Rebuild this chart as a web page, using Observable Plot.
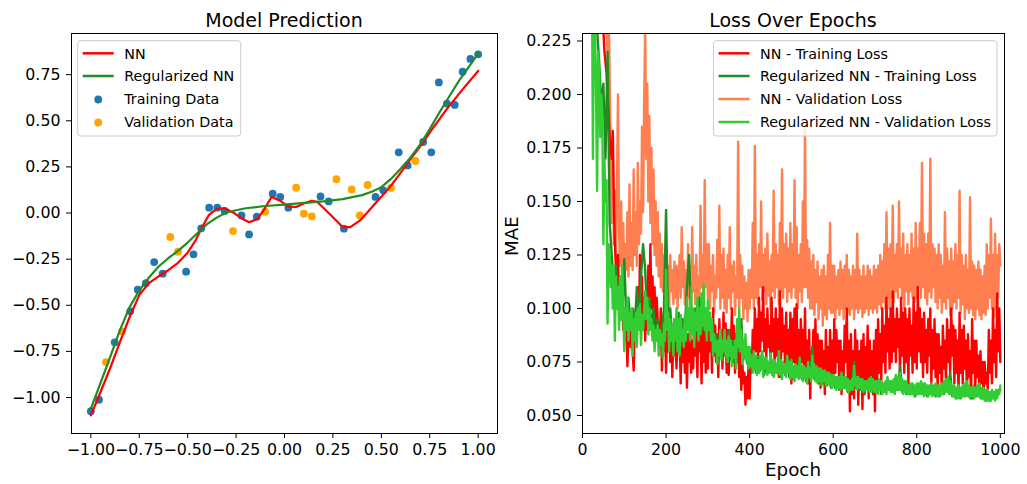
<!DOCTYPE html>
<html><head><meta charset="utf-8">
<script src="https://cdn.jsdelivr.net/npm/d3@7"></script>
<script src="https://cdn.jsdelivr.net/npm/@observablehq/plot@0.6"></script>
<style>
body{margin:0;background:#fff;}
#wrap{position:relative;width:1027px;height:484px;overflow:hidden;background:#fff;}
#wrap svg{position:absolute;top:0;}
</style></head><body><div id="wrap"></div>
<script>
// ---------- Left panel data ----------
const trainX = [-1.0,-0.958,-0.877,-0.797,-0.758,-0.716,-0.673,-0.629,-0.508,-0.470,-0.430,-0.389,-0.347,-0.309,-0.222,-0.183,-0.143,-0.061,-0.022,0.020,0.186,0.228,0.307,0.470,0.510,0.590,0.636,0.716,0.758,0.797,0.839,0.879,0.920,0.960,1.0];
const trainY = [-1.074,-1.012,-0.701,-0.533,-0.416,-0.380,-0.266,-0.329,-0.318,-0.224,-0.083,0.029,0.029,0.011,-0.013,-0.116,-0.020,0.105,0.087,0.029,0.090,0.063,-0.085,0.087,0.123,0.329,0.258,0.385,0.329,0.708,0.593,0.586,0.766,0.835,0.860];
const valX = [-0.922,-0.839,-0.590,-0.550,-0.266,-0.100,0.060,0.100,0.141,0.268,0.347,0.389,0.429,0.550,0.676];
const valY = [-0.808,-0.642,-0.130,-0.210,-0.098,0.007,0.137,-0.004,-0.018,0.183,0.128,-0.013,0.152,0.136,0.282];
const nnX = [-1.0,-0.95,-0.90,-0.85,-0.80,-0.75,-0.70,-0.65,-0.60,-0.55,-0.50,-0.46,-0.43,-0.39,-0.35,-0.31,-0.26,-0.22,-0.183,-0.14,-0.105,-0.067,-0.02,0.02,0.06,0.10,0.14,0.17,0.24,0.30,0.34,0.39,0.43,0.48,0.54,0.59,0.64,0.70,0.76,0.84,0.92,1.0];
const nnY = [-1.097,-0.97,-0.84,-0.70,-0.565,-0.445,-0.38,-0.343,-0.31,-0.27,-0.215,-0.15,-0.085,-0.010,0.022,0.026,0.000,-0.030,-0.050,-0.032,0.020,0.087,0.065,0.035,0.033,0.052,0.066,0.060,-0.012,-0.076,-0.076,-0.040,0.005,0.065,0.135,0.204,0.277,0.36,0.45,0.566,0.67,0.770];
const regX = [-1.0,-0.95,-0.90,-0.85,-0.80,-0.75,-0.70,-0.65,-0.60,-0.55,-0.50,-0.45,-0.40,-0.35,-0.30,-0.25,-0.20,-0.10,0.0,0.10,0.20,0.30,0.40,0.45,0.50,0.55,0.60,0.65,0.70,0.75,0.80,0.85,0.90,0.95,1.0];
const regY = [-1.06,-0.92,-0.78,-0.635,-0.51,-0.42,-0.35,-0.29,-0.245,-0.205,-0.16,-0.11,-0.06,-0.025,0.003,0.015,0.026,0.038,0.045,0.055,0.063,0.075,0.097,0.115,0.14,0.185,0.24,0.30,0.37,0.455,0.545,0.63,0.715,0.79,0.864];
const leftXTicks = [-1.0,-0.75,-0.5,-0.25,0,0.25,0.5,0.75,1.0];
const leftYTicks = [-1.0,-0.75,-0.5,-0.25,0,0.25,0.5,0.75];

// ---------- Right panel data ----------
// NN training / validation and regularized validation: one value every 2.5 epochs
const fineStep = 2.5;
const nnTrainLoss = [
0.52,0.50,0.48,0.46,0.44,0.42,0.40,0.38,0.37,0.35,0.34,0.33,0.32,0.30,0.29,0.28,0.27,0.26,0.25,0.24,
0.23,0.22,0.215,0.21,0.20,0.19,0.18,0.175,0.17,0.183,0.15,0.13,0.12,0.11,0.125,0.10,0.11,0.095,0.105,0.09,
0.1,0.085,0.095,0.073,0.09,0.098,0.082,0.092,0.08,0.071,0.09,0.1,0.085,0.11,0.09,0.125,0.095,0.115,0.09,0.105,
0.085,0.11,0.09,0.12,0.095,0.13,0.1,0.115,0.09,0.11,0.088,0.105,0.095,0.09,0.085,0.1,0.071,0.09,0.08,0.095,
0.07,0.09,0.08,0.095,0.075,0.09,0.068,0.088,0.078,0.085,0.072,0.09,0.08,0.085,0.065,0.09,0.075,0.088,0.07,0.09,
0.063,0.088,0.075,0.092,0.07,0.085,0.072,0.098,0.078,0.09,0.068,0.095,0.08,0.088,0.065,0.09,0.075,0.1,0.07,0.092,
0.072,0.095,0.08,0.09,0.07,0.1,0.078,0.092,0.075,0.088,0.068,0.095,0.08,0.09,0.072,0.098,0.078,0.093,0.07,0.09,
0.069,0.09,0.078,0.1,0.075,0.092,0.07,0.088,0.075,0.085,0.068,0.08,0.062,0.075,0.065,0.07,0.055,0.068,0.058,0.075,
0.058,0.08,0.07,0.09,0.075,0.1,0.08,0.095,0.078,0.105,0.08,0.098,0.085,0.11,0.08,0.095,0.077,0.1,0.082,0.092,
0.075,0.105,0.08,0.095,0.07,0.1,0.078,0.095,0.068,0.108,0.075,0.1,0.08,0.092,0.07,0.098,0.075,0.09,0.07,0.098,
0.065,0.095,0.075,0.1,0.07,0.102,0.072,0.09,0.068,0.095,0.075,0.09,0.072,0.1,0.07,0.085,0.065,0.09,0.058,0.08,
0.07,0.09,0.075,0.095,0.068,0.088,0.072,0.085,0.063,0.085,0.07,0.08,0.06,0.09,0.068,0.082,0.065,0.09,0.07,0.085,
0.065,0.095,0.07,0.09,0.075,0.085,0.062,0.085,0.06,0.08,0.068,0.092,0.075,0.1,0.065,0.085,0.052,0.088,0.06,0.08,
0.058,0.09,0.065,0.085,0.055,0.08,0.062,0.085,0.053,0.088,0.06,0.082,0.065,0.092,0.058,0.085,0.062,0.08,0.06,0.085,
0.052,0.09,0.062,0.095,0.07,0.088,0.065,0.1,0.075,0.092,0.07,0.105,0.08,0.095,0.072,0.1,0.075,0.108,0.08,0.095,
0.075,0.1,0.082,0.095,0.068,0.105,0.078,0.098,0.07,0.1,0.075,0.095,0.065,0.1,0.078,0.092,0.07,0.105,0.075,0.098,
0.072,0.11,0.08,0.1,0.075,0.095,0.068,0.098,0.075,0.09,0.07,0.095,0.078,0.1,0.065,0.09,0.072,0.095,0.068,0.088,
0.062,0.088,0.07,0.082,0.06,0.092,0.072,0.085,0.065,0.095,0.075,0.09,0.07,0.1,0.078,0.092,0.065,0.09,0.07,0.085,
0.06,0.098,0.07,0.09,0.065,0.092,0.072,0.085,0.06,0.088,0.068,0.08,0.058,0.095,0.07,0.085,0.062,0.085,0.068,0.078,
0.06,0.08,0.065,0.075,0.058,0.075,0.065,0.07,0.062,0.09,0.07,0.085,0.065,0.1,0.075,0.09,0.068,0.107,0.08,0.1,
0.075];
const nnValLoss = [
0.46,0.44,0.42,0.40,0.385,0.37,0.355,0.34,0.33,0.32,0.31,0.30,0.29,0.285,0.275,0.27,0.26,0.255,0.25,0.24,
0.235,0.24,0.23,0.228,0.22,0.24,0.21,0.17,0.14,0.177,0.13,0.155,0.12,0.16,0.20,0.135,0.12,0.15,0.115,0.14,
0.112,0.13,0.118,0.145,0.115,0.158,0.12,0.14,0.118,0.165,0.125,0.145,0.12,0.168,0.13,0.15,0.135,0.185,0.145,0.195,
0.23,0.17,0.205,0.15,0.19,0.14,0.175,0.13,0.165,0.125,0.15,0.12,0.145,0.115,0.135,0.11,0.13,0.108,0.125,0.105,
0.128,0.103,0.12,0.10,0.125,0.108,0.118,0.102,0.122,0.105,0.12,0.10,0.115,0.125,0.105,0.138,0.11,0.122,0.102,0.118,
0.098,0.13,0.105,0.12,0.10,0.138,0.108,0.12,0.102,0.125,0.1,0.115,0.105,0.148,0.11,0.125,0.098,0.16,0.11,0.13,
0.105,0.13,0.1,0.12,0.108,0.125,0.098,0.115,0.105,0.132,0.11,0.148,0.1,0.125,0.105,0.128,0.1,0.118,0.098,0.125,
0.105,0.138,0.1,0.12,0.108,0.122,0.097,0.115,0.105,0.178,0.1,0.125,0.105,0.12,0.095,0.115,0.1,0.112,0.094,0.118,
0.1,0.118,0.105,0.14,0.1,0.176,0.105,0.125,0.102,0.13,0.11,0.15,0.104,0.125,0.108,0.128,0.102,0.135,0.106,0.122,
0.1,0.125,0.108,0.155,0.105,0.13,0.11,0.125,0.102,0.14,0.108,0.165,0.105,0.13,0.11,0.135,0.103,0.128,0.108,0.14,
0.105,0.13,0.11,0.16,0.105,0.138,0.1,0.125,0.108,0.13,0.103,0.15,0.11,0.185,0.11,0.132,0.105,0.128,0.1,0.122,
0.1,0.125,0.097,0.118,0.103,0.122,0.095,0.115,0.1,0.118,0.092,0.12,0.097,0.115,0.095,0.125,0.1,0.14,0.098,0.12,
0.098,0.12,0.095,0.115,0.1,0.118,0.097,0.122,0.1,0.118,0.095,0.12,0.1,0.125,0.098,0.118,0.097,0.115,0.1,0.12,
0.095,0.118,0.1,0.135,0.098,0.118,0.1,0.115,0.096,0.12,0.098,0.115,0.1,0.12,0.097,0.118,0.1,0.115,0.098,0.12,
0.1,0.118,0.098,0.12,0.102,0.125,0.1,0.122,0.103,0.13,0.1,0.145,0.105,0.128,0.1,0.13,0.105,0.148,0.103,0.125,
0.108,0.13,0.105,0.15,0.11,0.128,0.105,0.135,0.1,0.125,0.108,0.13,0.102,0.125,0.108,0.135,0.105,0.128,0.103,0.14,
0.105,0.128,0.11,0.14,0.105,0.168,0.11,0.135,0.105,0.13,0.102,0.135,0.108,0.17,0.105,0.13,0.11,0.128,0.103,0.125,
0.1,0.13,0.105,0.125,0.098,0.12,0.103,0.145,0.1,0.128,0.105,0.122,0.097,0.128,0.1,0.122,0.103,0.13,0.1,0.125,
0.105,0.155,0.098,0.125,0.102,0.12,0.095,0.125,0.1,0.118,0.098,0.152,0.1,0.122,0.097,0.12,0.095,0.118,0.1,0.122,
0.097,0.118,0.095,0.115,0.098,0.12,0.097,0.13,0.1,0.125,0.105,0.142,0.1,0.125,0.096,0.135,0.1,0.125,0.105,0.13,
0.12];
const regValLoss = [
0.44,0.42,0.40,0.38,0.36,0.34,0.32,0.30,0.28,0.26,0.17,0.25,0.23,0.2,0.155,0.22,0.21,0.18,0.2,0.19,
0.13,0.17,0.15,0.16,0.093,0.13,0.125,0.11,0.12,0.1,0.12,0.085,0.115,0.1,0.11,0.09,0.115,0.095,0.12,0.1,
0.08,0.1,0.09,0.105,0.085,0.098,0.09,0.1,0.078,0.095,0.085,0.098,0.082,0.1,0.09,0.102,0.083,0.097,0.09,0.1,
0.108,0.095,0.105,0.088,0.1,0.09,0.095,0.085,0.092,0.08,0.09,0.085,0.092,0.078,0.09,0.083,0.088,0.077,0.09,0.085,
0.118,0.09,0.098,0.08,0.095,0.085,0.092,0.078,0.095,0.085,0.1,0.08,0.095,0.078,0.097,0.085,0.09,0.082,0.097,0.085,
0.105,0.09,0.1,0.085,0.11,0.088,0.1,0.082,0.098,0.09,0.105,0.085,0.1,0.088,0.107,0.092,0.111,0.09,0.1,0.085,
0.104,0.09,0.098,0.085,0.095,0.078,0.088,0.08,0.085,0.074,0.085,0.078,0.09,0.076,0.085,0.08,0.09,0.078,0.085,0.075,
0.087,0.078,0.085,0.073,0.082,0.077,0.085,0.072,0.095,0.082,0.1,0.08,0.09,0.074,0.085,0.078,0.088,0.075,0.082,0.072,
0.082,0.073,0.078,0.07,0.08,0.072,0.078,0.069,0.076,0.07,0.078,0.072,0.08,0.068,0.077,0.072,0.077,0.069,0.075,0.07,
0.079,0.07,0.076,0.068,0.076,0.07,0.074,0.07,0.08,0.069,0.076,0.067,0.075,0.07,0.074,0.068,0.078,0.07,0.075,0.067,
0.076,0.068,0.073,0.066,0.074,0.068,0.073,0.067,0.077,0.068,0.073,0.066,0.073,0.068,0.072,0.065,0.075,0.068,0.072,0.066,
0.078,0.068,0.073,0.066,0.073,0.065,0.072,0.066,0.072,0.064,0.071,0.066,0.071,0.064,0.07,0.065,0.07,0.064,0.069,0.063,
0.069,0.064,0.068,0.062,0.068,0.063,0.068,0.062,0.07,0.063,0.068,0.063,0.068,0.062,0.067,0.061,0.066,0.062,0.067,0.062,
0.073,0.064,0.068,0.062,0.068,0.063,0.067,0.062,0.067,0.061,0.066,0.062,0.066,0.062,0.067,0.061,0.068,0.062,0.067,0.061,
0.066,0.061,0.066,0.06,0.067,0.062,0.066,0.06,0.065,0.061,0.066,0.06,0.068,0.062,0.066,0.061,0.066,0.061,0.067,0.06,
0.069,0.062,0.068,0.062,0.07,0.062,0.067,0.06,0.066,0.061,0.066,0.06,0.064,0.06,0.065,0.06,0.065,0.06,0.064,0.059,
0.065,0.06,0.065,0.06,0.066,0.06,0.065,0.059,0.065,0.06,0.064,0.059,0.064,0.06,0.065,0.059,0.064,0.06,0.065,0.059,
0.064,0.059,0.064,0.06,0.065,0.06,0.066,0.061,0.067,0.061,0.068,0.06,0.066,0.06,0.064,0.059,0.064,0.058,0.063,0.058,
0.064,0.058,0.063,0.059,0.064,0.059,0.065,0.059,0.066,0.059,0.064,0.058,0.063,0.059,0.064,0.058,0.063,0.059,0.064,0.059,
0.065,0.058,0.063,0.058,0.063,0.057,0.062,0.057,0.062,0.057,0.061,0.057,0.062,0.058,0.061,0.057,0.062,0.058,0.062,0.06,
0.064];
// Regularized training loss: one value every 5 epochs (mostly hidden under its validation curve)
const coarseStep = 5;
const regTrainLoss = [
0.40,0.35,0.31,0.28,0.26,0.24,0.235,0.23,0.215,0.195,
0.205,0.17,0.22,0.14,0.125,0.11,0.12,0.10,0.115,0.095,
0.123,0.095,0.105,0.09,0.10,0.09,0.11,0.092,0.115,0.13,
0.118,0.095,0.105,0.09,0.10,0.085,0.095,0.082,0.09,0.10,
0.146,0.09,0.10,0.085,0.095,0.085,0.098,0.083,0.095,0.09,
0.11,0.125,0.095,0.09,0.10,0.088,0.105,0.09,0.10,0.088,
0.098,0.09,0.095,0.082,0.088,0.08,0.09,0.078,0.088,0.078,
0.09,0.076,0.085,0.075,0.09,0.08,0.095,0.076,0.085,0.074,
0.08,0.072,0.078,0.07,0.077,0.071,0.079,0.069,0.076,0.07,
0.078,0.069,0.075,0.07,0.079,0.068,0.074,0.069,0.077,0.068,
0.075,0.067,0.073,0.068,0.076,0.067,0.072,0.066,0.074,0.067,
0.082,0.067,0.072,0.065,0.071,0.065,0.07,0.064,0.069,0.063,
0.068,0.063,0.067,0.062,0.069,0.063,0.067,0.061,0.065,0.062,
0.075,0.063,0.067,0.062,0.066,0.061,0.065,0.062,0.067,0.061,
0.065,0.061,0.066,0.06,0.064,0.061,0.067,0.062,0.065,0.061,
0.068,0.062,0.073,0.061,0.065,0.06,0.063,0.06,0.064,0.059,
0.063,0.06,0.065,0.06,0.064,0.059,0.062,0.06,0.063,0.059,
0.062,0.059,0.063,0.06,0.065,0.061,0.07,0.059,0.062,0.058,
0.062,0.058,0.061,0.059,0.064,0.059,0.062,0.058,0.061,0.059,
0.063,0.058,0.061,0.057,0.06,0.057,0.059,0.058,0.06,0.06,
0.062];
const rightXTicks = [0,200,400,600,800,1000];
const rightYTicks = [0.05,0.075,0.1,0.125,0.15,0.175,0.2,0.225];

// ---------- Build ----------
const FONT = "DejaVu Sans";
const wrap = document.getElementById("wrap");
const toPts = (xs, ys) => xs.map((x, i) => ({x, y: ys[i]}));
const series = (vals, step) => vals.map((v, i) => ({x: i * step, y: v}));

const left = Plot.plot({
  width: 510, height: 484,
  marginLeft: 71, marginRight: 13, marginTop: 33, marginBottom: 51,
  style: {fontFamily: FONT, fontSize: "15.8px", color: "#000", background: "transparent", overflow: "visible"},
  x: {domain: [-1.1, 1.1], ticks: leftXTicks, tickFormat: d3.format(".2f"), tickSize: 5, tickPadding: 5, label: null},
  y: {domain: [-1.195, 0.973], ticks: leftYTicks, tickFormat: d3.format(".2f"), tickSize: 5, tickPadding: 6, label: null},
  marks: [
    Plot.dot(toPts(trainX, trainY), {x: "x", y: "y", r: 3.9, fill: "#1f77b4", stroke: "none"}),
    Plot.dot(toPts(valX, valY), {x: "x", y: "y", r: 3.9, fill: "#ffa500", stroke: "none"}),
    Plot.line(toPts(nnX, nnY), {x: "x", y: "y", stroke: "#ff0000", strokeWidth: 2.2}),
    Plot.line(toPts(regX, regY), {x: "x", y: "y", stroke: "#228b22", strokeWidth: 2.2}),
    Plot.frame({stroke: "#000", strokeWidth: 1})
  ]
});
left.style.left = "0px";
wrap.appendChild(left);

const right = Plot.plot({
  width: 517, height: 484,
  marginLeft: 72, marginRight: 23, marginTop: 33, marginBottom: 51,
  style: {fontFamily: FONT, fontSize: "15.8px", color: "#000", background: "transparent", overflow: "visible"},
  x: {domain: [0, 1010], ticks: rightXTicks, tickFormat: d3.format("d"), tickSize: 5, tickPadding: 5, label: null},
  y: {domain: [0.0416, 0.2285], ticks: rightYTicks, tickFormat: d3.format(".3f"), tickSize: 5, tickPadding: 6, label: null},
  marks: [
    Plot.line(series(nnValLoss, fineStep), {x: "x", y: "y", stroke: "#ff7f50", strokeWidth: 2.4, clip: true}),
    Plot.line(series(nnTrainLoss, fineStep), {x: "x", y: "y", stroke: "#ff0000", strokeWidth: 2.4, clip: true}),
    Plot.line(series(regTrainLoss, coarseStep), {x: "x", y: "y", stroke: "#228b22", strokeWidth: 2.4, clip: true}),
    Plot.line(series(regValLoss, fineStep), {x: "x", y: "y", stroke: "#32cd32", strokeWidth: 2.4, clip: true}),
    Plot.frame({stroke: "#000", strokeWidth: 1})
  ]
});
right.style.left = "510px";
wrap.appendChild(right);

// ---------- Overlay: titles, axis labels, legends ----------
const ov = d3.select(wrap).append("svg")
  .attr("width", 1027).attr("height", 484)
  .style("left", "0px").style("font-family", FONT);

ov.append("text").attr("x", 284).attr("y", 27).attr("text-anchor", "middle")
  .style("font-size", "19px").text("Model Prediction");
ov.append("text").attr("x", 793).attr("y", 27).attr("text-anchor", "middle")
  .style("font-size", "19px").text("Loss Over Epochs");
ov.append("text").attr("x", 793).attr("y", 476).attr("text-anchor", "middle")
  .style("font-size", "18.3px").text("Epoch");
ov.append("text").attr("transform", "translate(518,236) rotate(-90)").attr("text-anchor", "middle")
  .style("font-size", "18.3px").text("MAE");

function legend(x0, w, items) {
  const g = ov.append("g");
  g.append("rect").attr("x", x0).attr("y", 40.7).attr("width", w).attr("height", 95.3)
    .attr("rx", 3).attr("fill", "rgba(255,255,255,0.8)").attr("stroke", "#cccccc").attr("stroke-width", 1);
  items.forEach((it, i) => {
    const cy = [53.3, 76, 99, 122][i];
    if (it.type === "line") {
      g.append("line").attr("x1", x0 + 5).attr("x2", x0 + 36).attr("y1", cy).attr("y2", cy)
        .attr("stroke", it.color).attr("stroke-width", 2.5);
    } else {
      g.append("circle").attr("cx", x0 + 20.5).attr("cy", cy + 0.5).attr("r", 3.9).attr("fill", it.color);
    }
    g.append("text").attr("x", x0 + 46.5).attr("y", cy + 5.2).style("font-size", "14.3px").attr("fill", "#000").text(it.label);
  });
}
legend(77.7, 163, [
  {type: "line", color: "#ff0000", label: "NN"},
  {type: "line", color: "#228b22", label: "Regularized NN"},
  {type: "dot", color: "#1f77b4", label: "Training Data"},
  {type: "dot", color: "#ffa500", label: "Validation Data"}
]);
legend(713.5, 283.5, [
  {type: "line", color: "#ff0000", label: "NN - Training Loss"},
  {type: "line", color: "#228b22", label: "Regularized NN - Training Loss"},
  {type: "line", color: "#ff7f50", label: "NN - Validation Loss"},
  {type: "line", color: "#32cd32", label: "Regularized NN - Validation Loss"}
]);
</script></body></html>
